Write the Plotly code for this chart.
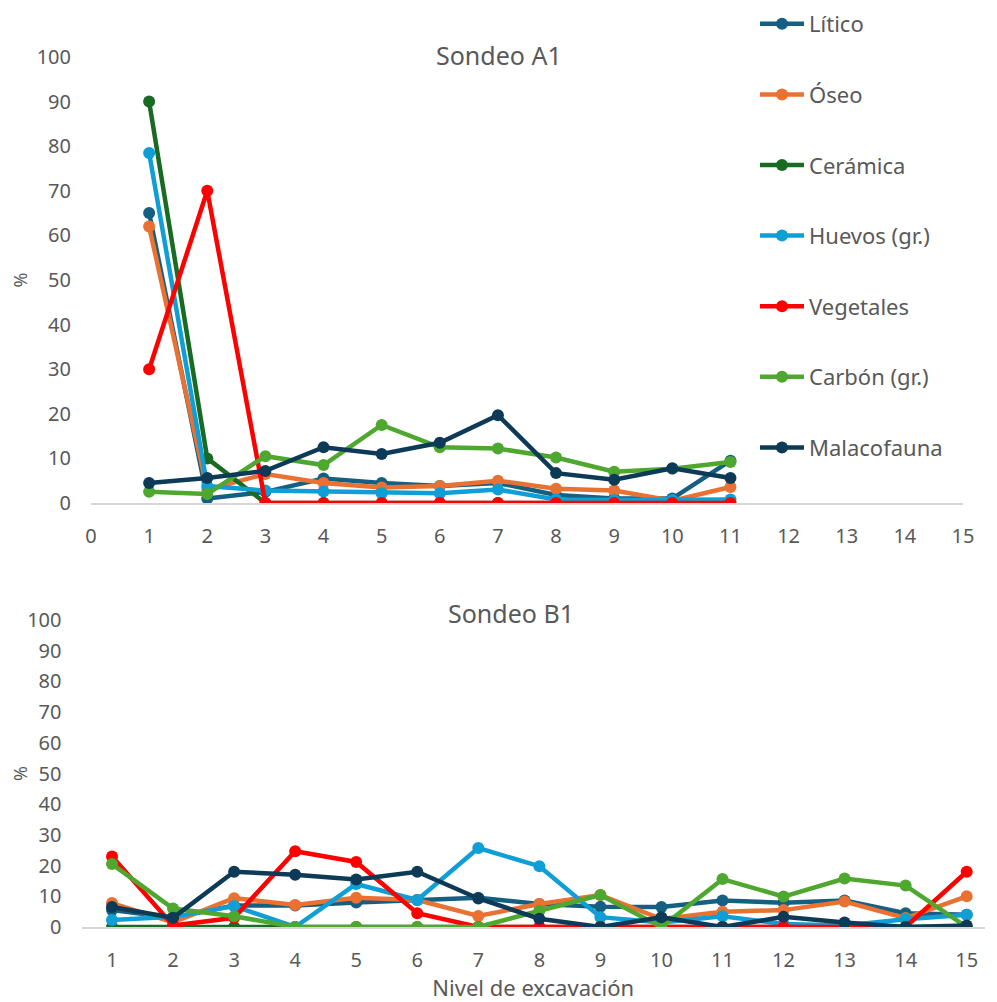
import plotly.graph_objects as go

# ---------------- data ----------------
series_names = ["Lítico", "Óseo", "Cerámica", "Huevos (gr.)", "Vegetales", "Carbón (gr.)", "Malacofauna"]
series_colors = ["#156082", "#E97132", "#196B24", "#0F9ED5", "#FF0000", "#4EA72E", "#0D3A56"]

levels_A = [1, 2, 3, 4, 5, 6, 7, 8, 9, 10, 11]
A_litico = [65, 1, 2.5, 5.5, 4.5, 3.8, 4.5, 1.8, 1, 1, 9.5]
A_oseo = [62, 3, 6.5, 4.5, 3.5, 3.8, 5, 3.2, 2.8, 0.5, 3.6]
A_ceramica = [90, 10, 0, 0, 0, 0, 0, 0, 0, 0, 0]
A_huevos = [78.5, 3.8, 2.8, 2.6, 2.2, 2.2, 3, 0.8, 0.7, 0.7, 0.8]
A_vegetales = [30, 70, 0, 0, 0, 0, 0, 0, 0, 0, 0]
A_carbon = [2.5, 2, 10.5, 8.5, 17.5, 12.5, 12.2, 10.2, 7, 7.7, 9.2]
A_malaco = [4.5, 5.6, 7.2, 12.5, 11, 13.5, 19.7, 6.7, 5.2, 7.8, 5.6]

levels_B = [1, 2, 3, 4, 5, 6, 7, 8, 9, 10, 11, 12, 13, 14, 15]
B_litico = [5.5, 3, 7, 7, 8, 8.8, 9.5, 7.5, 6.6, 6.5, 8.6, 7.9, 8.6, 4.5, 4]
B_oseo = [7.8, 1.5, 9.4, 7.2, 9.5, 8.8, 3.6, 7.5, 10.4, 2.6, 5, 5.5, 8.3, 2.9, 10]
B_ceramica = [0, 0, 0, 0, 0, 0, 0, 0, 0, 0, 0, 0, 0, 0, 0]
B_huevos = [2.3, 3.3, 6.8, 0, 14, 8.8, 25.7, 19.8, 3.2, 1.5, 3.5, 1, 0.5, 2.5, 4]
B_vegetales = [23, 0.5, 3, 24.7, 21.2, 4.5, 0, 0, 0, 0, 0, 0, 0, 0, 18]
B_carbon = [20.5, 6, 3.5, 0, 0, 0, 0, 5.3, 10.4, 0, 15.6, 9.9, 15.8, 13.5, 0]
B_malaco = [6.5, 3, 18, 17, 15.5, 18, 9.3, 2.7, 0, 3.2, 0, 3.3, 1.5, 0, 0.5]

ticks_A = list(range(0, 16))
ticks_B = list(range(1, 16))
ticks_y = list(range(0, 101, 10))

data_A = [A_litico, A_oseo, A_ceramica, A_huevos, A_vegetales, A_carbon, A_malaco]
data_B = [B_litico, B_oseo, B_ceramica, B_huevos, B_vegetales, B_carbon, B_malaco]

# page body has an 8px default margin: figure is drawn from (8, 8)
OFF = 8
W, H = 997 - OFF, 1002 - OFF
FONT = "Noto Sans"
GREY = "#595959"

fig = go.Figure()
for i, name in enumerate(series_names):
    fig.add_trace(go.Scatter(
        x=levels_A, y=data_A[i], name=name, mode="lines+markers",
        line=dict(color=series_colors[i], width=4.5),
        marker=dict(color=series_colors[i], size=12),
        xaxis="x", yaxis="y", legendgroup=name, showlegend=True))
for i, name in enumerate(series_names):
    fig.add_trace(go.Scatter(
        x=levels_B, y=data_B[i], name=name, mode="lines+markers",
        line=dict(color=series_colors[i], width=4.5),
        marker=dict(color=series_colors[i], size=12),
        xaxis="x2", yaxis="y2", legendgroup=name, showlegend=False))

def px(x):
    return (x - OFF) / W

def py(y):
    return 1 - (y - OFF) / H

axis_common = dict(showgrid=False, zeroline=False, automargin=False,
                   tickfont=dict(family=FONT, size=20, color=GREY))

fig.update_layout(
    width=W, height=H,
    margin=dict(l=0, r=0, t=0, b=0, autoexpand=False),
    paper_bgcolor="white", plot_bgcolor="white",
    font=dict(family=FONT, color=GREY),
    xaxis=dict(domain=[px(91), px(963)], range=[0, 15], tickvals=ticks_A,
               showline=True, linecolor="#D6D6D6", linewidth=1.5,
               ticks="", ticklabelstandoff=14, anchor="y", **axis_common),
    yaxis=dict(domain=[py(503), py(57)], range=[0, 100], tickvals=ticks_y,
               showline=False, ticks="", ticklabelstandoff=19, anchor="x",
               title=dict(text="%", font=dict(family=FONT, size=18, color=GREY), standoff=8),
               **axis_common),
    xaxis2=dict(domain=[px(81.5), px(985)], range=[0.5, 15.3], tickvals=ticks_B,
                showline=True, linecolor="#D6D6D6", linewidth=1.5,
                ticks="", ticklabelstandoff=14, anchor="y2",
                title=dict(text="Nivel de excavación", font=dict(family=FONT, size=22, color=GREY), standoff=9),
                **axis_common),
    yaxis2=dict(domain=[py(927), py(620)], range=[0, 100], tickvals=ticks_y,
                showline=False, ticks="", ticklabelstandoff=19, anchor="x2",
                title=dict(text="%", font=dict(family=FONT, size=18, color=GREY), standoff=8),
                **axis_common),
    legend=dict(x=px(755), y=1 + 5 / H, xref="paper", yref="paper",
                xanchor="left", yanchor="top",
                font=dict(family=FONT, size=22, color=GREY),
                bgcolor="rgba(255,255,255,0)", tracegroupgap=39,
                itemwidth=44, traceorder="grouped"),
    annotations=[
        dict(text="Sondeo A1", x=px(499), y=py(55), xref="paper", yref="paper",
             xanchor="center", yanchor="middle",
             showarrow=False, font=dict(family=FONT, size=25, color=GREY)),
        dict(text="Sondeo B1", x=px(511), y=py(613), xref="paper", yref="paper",
             xanchor="center", yanchor="middle",
             showarrow=False, font=dict(family=FONT, size=25, color=GREY)),
    ],
)

fig.write_html("out.html")
